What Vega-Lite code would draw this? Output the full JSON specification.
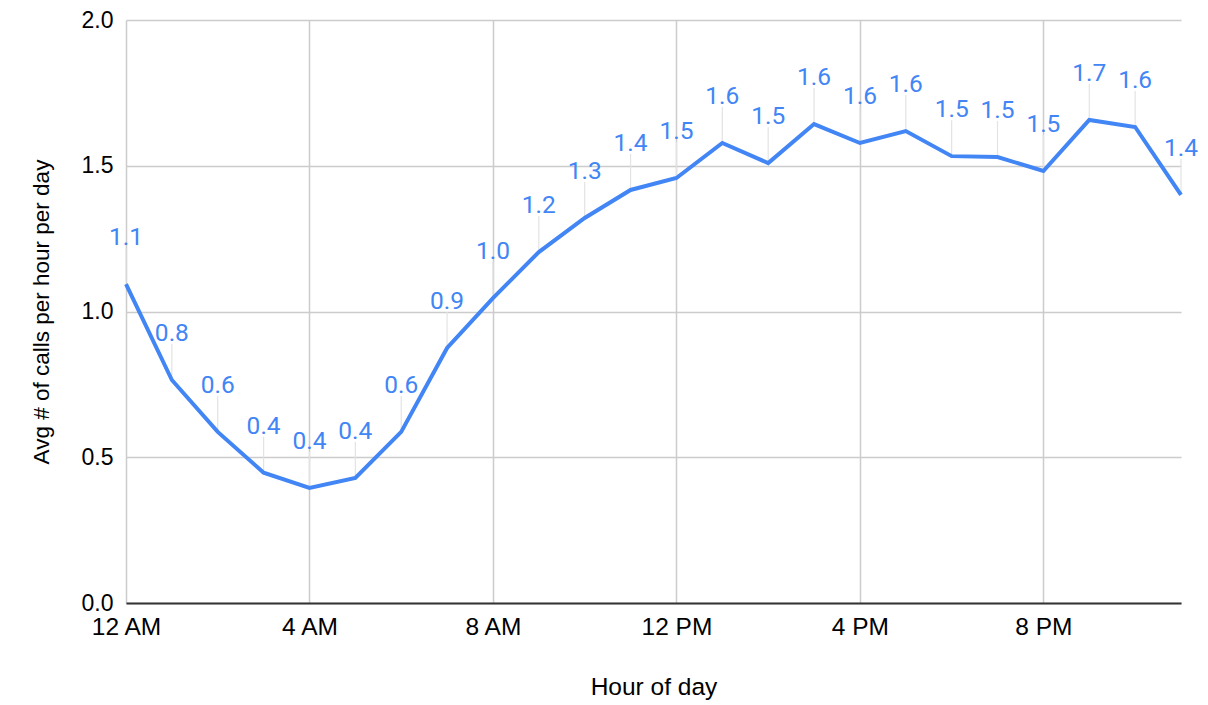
{
  "$schema": "https://vega.github.io/schema/vega-lite/v6.json",
  "width": 1055,
  "height": 583,
  "autosize": {"type": "none"},
  "padding": {"left": 126, "top": 20, "right": 27, "bottom": 102},
  "background": "white",
  "config": {"view": {"stroke": null}},
  "data": {"values": [
    {"hour": 0, "calls": 1.094},
    {"hour": 1, "calls": 0.765},
    {"hour": 2, "calls": 0.587},
    {"hour": 3, "calls": 0.447},
    {"hour": 4, "calls": 0.395},
    {"hour": 5, "calls": 0.429},
    {"hour": 6, "calls": 0.587},
    {"hour": 7, "calls": 0.875},
    {"hour": 8, "calls": 1.046},
    {"hour": 9, "calls": 1.204},
    {"hour": 10, "calls": 1.321},
    {"hour": 11, "calls": 1.417},
    {"hour": 12, "calls": 1.458},
    {"hour": 13, "calls": 1.578},
    {"hour": 14, "calls": 1.509},
    {"hour": 15, "calls": 1.643},
    {"hour": 16, "calls": 1.578},
    {"hour": 17, "calls": 1.619},
    {"hour": 18, "calls": 1.533},
    {"hour": 19, "calls": 1.530},
    {"hour": 20, "calls": 1.482},
    {"hour": 21, "calls": 1.657},
    {"hour": 22, "calls": 1.633},
    {"hour": 23, "calls": 1.400}
  ]},
  "encoding": {
    "x": {
      "field": "hour", "type": "quantitative",
      "scale": {"domain": [0, 23], "nice": false, "zero": false},
      "axis": {
        "values": [0, 4, 8, 12, 16, 20],
        "labelExpr": "datum.value == 0 ? '12 AM' : datum.value < 12 ? datum.value + ' AM' : datum.value == 12 ? '12 PM' : (datum.value - 12) + ' PM'",
        "title": "Hour of day",
        "titleFont": "Liberation Sans", "titleFontSize": 24.5, "titleFontWeight": "normal", "titleColor": "#000000",
        "titlePadding": 37,
        "labelFont": "Liberation Sans", "labelFontSize": 24.5, "labelColor": "#000000", "labelPadding": 12,
        "labelFlush": false,
        "grid": true, "gridColor": "#cccccc", "gridWidth": 1.5,
        "ticks": false,
        "domain": true, "domainColor": "#333333", "domainWidth": 2
      }
    },
    "y": {
      "field": "calls", "type": "quantitative",
      "scale": {"domain": [0, 2], "nice": false},
      "axis": {
        "values": [0, 0.5, 1, 1.5, 2],
        "format": ".1f",
        "title": "Avg # of calls per hour per day",
        "titleFont": "Liberation Sans", "titleFontSize": 22.5, "titleFontWeight": "normal", "titleColor": "#000000",
        "titlePadding": 28,
        "labelFont": "Liberation Sans", "labelFontSize": 23, "labelColor": "#000000", "labelPadding": 13,
        "grid": true, "gridColor": "#cccccc", "gridWidth": 1.5,
        "ticks": false, "domain": false
      }
    }
  },
  "layer": [
    {
      "mark": {"type": "point", "shape": "M0,-0.1L0,-2", "size": 1296, "filled": false, "stroke": "#e3e3e3", "strokeWidth": 1.2, "opacity": 1}
    },
    {
      "mark": {"type": "line", "color": "#4285F4", "strokeWidth": 4}
    },
    {
      "mark": {"type": "text", "font": "Roboto", "fontSize": 24.5, "color": "#4285F4", "baseline": "alphabetic", "align": "center", "dy": -39},
      "encoding": {"text": {"field": "calls", "type": "quantitative", "format": ".1f"}}
    }
  ]
}
